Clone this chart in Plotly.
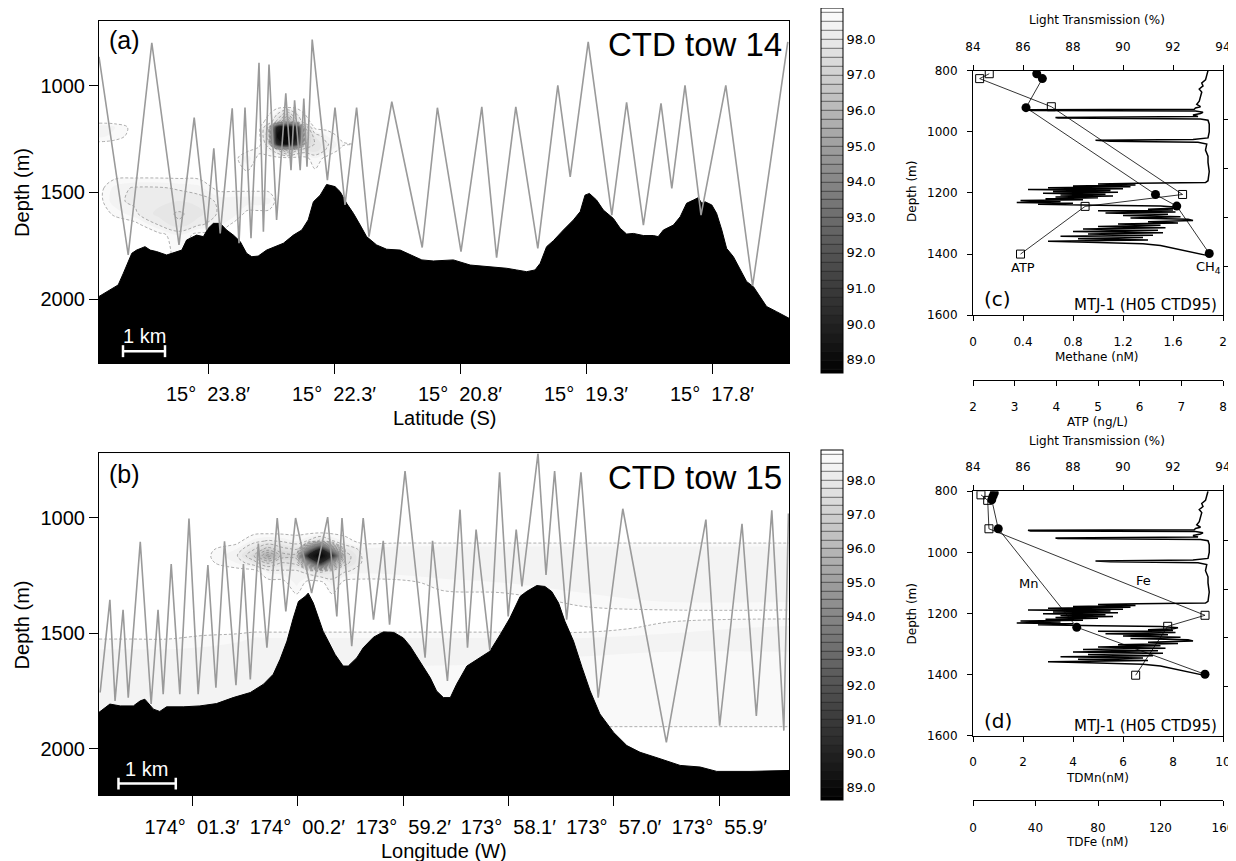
import plotly.graph_objects as go

W, H = 1236, 861
OFF = 8  # the page body keeps an 8 px margin round the figure

# ---------------- (a) CTD tow 14 : along-track distance (km) vs depth (m) ----------------
tow14_path_km = [0.00, 0.73, 1.32, 2.00, 2.38, 2.69, 2.87, 3.03, 3.33, 3.50, 3.65, 3.80, 4.00, 4.11,
                 4.25, 4.44, 4.67, 4.80, 4.89, 5.03, 5.12, 5.20, 5.33, 5.71, 5.90, 6.15, 6.44, 6.75,
                 7.32, 8.08, 8.46, 9.05, 9.57, 9.94, 10.42, 10.97, 11.47, 11.78, 12.23, 12.82, 13.19,
                 13.61, 14.05, 14.32, 14.65, 15.05, 15.67, 16.34, 17.22]
tow14_path_depth = [866, 1793, 800, 1746, 1150, 1676, 1294, 1692, 1107, 1738, 1103, 1715, 894, 1684,
                    902, 1629, 1037, 1396, 1069, 1396, 1061, 1380, 785, 1443, 1103, 1559, 1103, 1707,
                    1076, 1758, 1104, 1777, 1100, 1805, 1100, 1762, 999, 1427, 796, 1606, 1079,
                    1653, 1084, 1481, 999, 1606, 999, 1938, 796]
tow14_floor_km = [0.00, 0.48, 0.61, 0.82, 0.94, 1.15, 1.28, 1.44, 1.69, 1.94, 2.07, 2.19, 2.44, 2.61,
                  2.73, 2.86, 3.03, 3.19, 3.36, 3.53, 3.69, 3.82, 3.98, 4.19, 4.40, 4.61, 4.86, 5.07,
                  5.23, 5.36, 5.53, 5.69, 5.90, 6.03, 6.19, 6.36, 6.53, 6.69, 6.94, 7.19, 7.53, 7.78,
                  8.07, 8.36, 8.86, 9.28, 9.69, 10.19, 10.44, 10.69, 10.90, 11.03, 11.19, 11.36, 11.61,
                  11.86, 12.03, 12.15, 12.26, 12.44, 12.61, 12.86, 13.03, 13.19, 13.36, 13.61, 13.86,
                  13.98, 14.11, 14.36, 14.53, 14.69, 14.86, 14.98, 15.07, 15.15, 15.32, 15.44, 15.57,
                  15.69, 15.86, 16.03, 16.19, 16.36, 16.53, 16.69, 16.94, 17.25]
tow14_floor_depth = [1987, 1933, 1878, 1785, 1770, 1754, 1770, 1777, 1793, 1777, 1770, 1723, 1700, 1707,
                     1668, 1645, 1645, 1676, 1700, 1730, 1785, 1801, 1798, 1770, 1754, 1738, 1700, 1676,
                     1629, 1544, 1513, 1463, 1473, 1497, 1551, 1598, 1653, 1707, 1746, 1766, 1770, 1793,
                     1816, 1821, 1816, 1840, 1847, 1855, 1863, 1871, 1863, 1832, 1754, 1726, 1676,
                     1629, 1590, 1513, 1505, 1536, 1583, 1622, 1668, 1695, 1692, 1702, 1702,
                     1707, 1676, 1653, 1614, 1551, 1536, 1525, 1551, 1544, 1559, 1598, 1676,
                     1762, 1801, 1863, 1917, 1941, 1987, 2034, 2058, 2089]
# light transmission (%) section grid
tow14_grid_km = [0.0, 0.4, 0.9, 1.5, 2.0, 2.5, 3.0, 3.4, 3.7, 4.0, 4.25, 4.45, 4.7, 4.95, 5.15, 5.4, 5.7, 6.1, 7.0, 17.3]
tow14_grid_depth = [690, 1100, 1170, 1195, 1236, 1275, 1300, 1340, 1420, 1480, 1540, 1600, 1650, 1700, 2305]
tow14_lt = [
    [98.9, 98.9, 98.9, 98.9, 98.9, 98.9, 98.9, 98.9, 98.9, 98.9, 98.9, 98.9, 98.9, 98.9, 98.9, 98.9, 98.9, 98.9, 98.9, 98.9],
    [98.9, 98.9, 98.9, 98.9, 98.9, 98.9, 98.9, 98.9, 98.9, 98.9, 98.9, 98.9, 98.9, 98.9, 98.9, 98.9, 98.9, 98.9, 98.9, 98.9],
    [98.9, 98.9, 98.9, 98.9, 98.9, 98.9, 98.9, 98.9, 98.9, 98.9, 98.6, 97.6, 95.5, 97.6, 98.6, 98.9, 98.9, 98.9, 98.9, 98.9],
    [98.3, 98.5, 98.9, 98.9, 98.9, 98.9, 98.9, 98.9, 98.9, 98.9, 97.6, 90.0, 89.0, 90.5, 97.3, 98.9, 98.9, 98.9, 98.9, 98.9],
    [98.4, 98.6, 98.9, 98.9, 98.9, 98.9, 98.9, 98.9, 98.9, 98.9, 97.3, 89.2, 88.8, 89.5, 96.8, 98.0, 98.5, 98.9, 98.9, 98.9],
    [98.9, 98.9, 98.9, 98.9, 98.9, 98.9, 98.9, 98.9, 98.9, 98.9, 97.9, 90.5, 89.2, 91.0, 97.2, 97.8, 98.2, 98.7, 98.9, 98.9],
    [98.9, 98.9, 98.9, 98.9, 98.9, 98.9, 98.9, 98.9, 98.9, 98.6, 98.4, 97.8, 96.5, 97.6, 97.9, 97.8, 98.3, 98.9, 98.9, 98.9],
    [98.9, 98.9, 98.9, 98.9, 98.9, 98.9, 98.9, 98.9, 98.3, 98.9, 98.9, 98.9, 98.9, 98.9, 98.9, 98.5, 98.9, 98.9, 98.9, 98.9],
    [98.9, 98.9, 98.9, 98.9, 98.9, 98.9, 98.9, 98.9, 98.9, 98.9, 98.9, 98.9, 98.9, 98.9, 98.9, 98.9, 98.9, 98.9, 98.9, 98.9],
    [98.9, 98.4, 98.2, 98.2, 98.3, 98.4, 98.9, 98.9, 98.9, 98.9, 98.9, 98.9, 98.9, 98.9, 98.9, 98.9, 98.9, 98.9, 98.9, 98.9],
    [98.9, 98.3, 98.2, 98.1, 98.0, 98.1, 98.3, 98.3, 98.3, 98.3, 98.4, 98.9, 98.9, 98.9, 98.9, 98.9, 98.9, 98.9, 98.9, 98.9],
    [98.9, 98.7, 98.3, 97.9, 97.7, 97.9, 98.3, 98.4, 98.9, 98.9, 98.9, 98.9, 98.9, 98.9, 98.9, 98.9, 98.9, 98.9, 98.9, 98.9],
    [98.9, 98.9, 98.9, 98.2, 97.8, 98.2, 98.4, 98.9, 98.9, 98.9, 98.9, 98.9, 98.9, 98.9, 98.9, 98.9, 98.9, 98.9, 98.9, 98.9],
    [98.9, 98.9, 98.9, 98.9, 98.5, 98.9, 98.9, 98.9, 98.9, 98.9, 98.9, 98.9, 98.9, 98.9, 98.9, 98.9, 98.9, 98.9, 98.9, 98.9],
    [98.9, 98.9, 98.9, 98.9, 98.9, 98.9, 98.9, 98.9, 98.9, 98.9, 98.9, 98.9, 98.9, 98.9, 98.9, 98.9, 98.9, 98.9, 98.9, 98.9],
]
tow14_tick_km = [2.725, 5.875, 9.025, 12.175, 15.325]
tow14_tick_text = ["15°\u00a0 23.8′", "15°\u00a0 22.3′", "15°\u00a0 20.8′", "15°\u00a0 19.3′", "15°\u00a0 17.8′"]

# ---------------- (b) CTD tow 15 ----------------
tow15_path_km = [0.02, 0.19, 0.28, 0.42, 0.51, 0.72, 0.91, 1.03, 1.12, 1.26, 1.41, 1.57, 1.73, 1.90,
                 2.04, 2.19, 2.39, 2.52, 2.64, 2.78, 2.93, 3.11, 3.26, 3.43, 3.71, 3.99, 4.15, 4.24,
                 4.41, 4.61, 4.79, 4.96, 5.07, 5.34, 5.69, 5.82, 6.08, 6.30, 6.43, 6.58, 6.82, 6.99,
                 7.14, 7.28, 7.38, 7.66, 7.80, 7.95, 8.16, 8.41, 8.71, 9.14, 9.90, 10.59, 10.83,
                 11.22, 11.47, 11.74, 11.95, 12.03]
tow15_path_depth = [1757, 1355, 1793, 1398, 1779, 1103, 1807, 1398, 1764, 1200, 1764, 1003, 1764, 1204,
                    1736, 1101, 1725, 1200, 1700, 1111, 1563, 1000, 1405, 1000, 1326, 996, 1427, 1000,
                    1556, 1000, 1441, 1099, 1463, 797, 1606, 1099, 1707, 964, 1563, 1050, 1573, 802,
                    1427, 1050, 1297, 720, 1247, 797, 1441, 802, 1779, 960, 1973, 1007, 1901,
                    1025, 1858, 967, 1922, 981]
tow15_floor_km = [0.00, 0.19, 0.37, 0.60, 0.72, 0.80, 0.95, 1.06, 1.18, 1.47, 1.76, 2.05, 2.34, 2.64,
                  2.87, 3.04, 3.16, 3.28, 3.39, 3.48, 3.60, 3.65, 3.74, 3.83, 3.91, 4.00, 4.12, 4.26,
                  4.35, 4.50, 4.61, 4.79, 4.96, 5.14, 5.31, 5.43, 5.60, 5.78, 5.89, 6.01, 6.13, 6.24,
                  6.42, 6.65, 6.82, 7.00, 7.17, 7.35, 7.46, 7.64, 7.78, 7.90, 8.02, 8.13, 8.28, 8.43,
                  8.57, 8.74, 8.98, 9.21, 9.44, 9.79, 10.14, 10.49, 10.78, 11.36, 11.77, 12.04]
tow15_floor_depth = [1843, 1807, 1815, 1815, 1793, 1786, 1829, 1839, 1819, 1819, 1815, 1805, 1779, 1757,
                     1721, 1678, 1613, 1534, 1434, 1362, 1340, 1326, 1369, 1434, 1491, 1534, 1592, 1642,
                     1642, 1606, 1563, 1517, 1494, 1496, 1520, 1556, 1621, 1693, 1750, 1779, 1779, 1721,
                     1642, 1606, 1578, 1506, 1434, 1340, 1319, 1293, 1297, 1319, 1369, 1448, 1534, 1649,
                     1750, 1850, 1930, 1987, 2016, 2044, 2073, 2080, 2099, 2099, 2095, 2095]
tow15_grid_km = [0.0, 0.6, 1.2, 1.8, 2.4, 2.7, 2.95, 3.2, 3.45, 3.65, 3.86, 4.07, 4.3, 4.6, 5.2, 6.0, 7.0, 8.5, 10.0, 12.1]
tow15_grid_depth = [715, 1060, 1100, 1135, 1164, 1195, 1230, 1280, 1350, 1420, 1480, 1540, 1600, 1660, 1750, 1850, 1960, 2210]
tow15_lt = [
    [98.9, 98.9, 98.9, 98.9, 98.9, 98.9, 98.9, 98.9, 98.9, 98.9, 98.9, 98.9, 98.9, 98.9, 98.9, 98.9, 98.9, 98.9, 98.9, 98.9],
    [98.9, 98.9, 98.9, 98.9, 98.9, 98.9, 98.9, 98.9, 98.9, 98.9, 98.9, 98.9, 98.9, 98.9, 98.9, 98.9, 98.9, 98.9, 98.9, 98.9],
    [98.9, 98.9, 98.9, 98.9, 98.9, 98.4, 98.2, 98.3, 98.5, 98.2, 97.6, 98.2, 98.6, 98.9, 98.9, 98.9, 98.9, 98.9, 98.9, 98.9],
    [98.9, 98.9, 98.9, 98.9, 98.5, 97.8, 97.0, 97.6, 97.8, 94.0, 90.0, 94.5, 97.9, 98.4, 98.3, 98.3, 98.3, 98.3, 98.3, 98.3],
    [98.9, 98.9, 98.9, 98.9, 98.3, 97.3, 95.5, 97.0, 97.0, 90.0, 88.8, 90.5, 97.5, 98.3, 98.3, 98.3, 98.3, 98.3, 98.3, 98.3],
    [98.9, 98.9, 98.9, 98.9, 98.5, 98.0, 97.2, 97.8, 97.6, 94.5, 90.5, 95.0, 97.6, 98.3, 98.3, 98.3, 98.3, 98.3, 98.3, 98.3],
    [98.9, 98.9, 98.9, 98.9, 98.9, 98.9, 98.4, 98.3, 98.3, 98.0, 97.6, 97.9, 98.2, 98.4, 98.3, 98.3, 98.3, 98.3, 98.3, 98.3],
    [98.9, 98.9, 98.9, 98.9, 98.9, 98.9, 98.9, 98.9, 98.4, 98.9, 98.9, 98.4, 98.9, 98.9, 98.9, 98.6, 98.5, 98.3, 98.3, 98.3],
    [98.9, 98.9, 98.9, 98.9, 98.9, 98.9, 98.9, 98.9, 98.9, 98.9, 98.9, 98.9, 98.9, 98.9, 98.9, 98.9, 98.9, 98.6, 98.4, 98.4],
    [98.9, 98.9, 98.9, 98.9, 98.9, 98.9, 98.9, 98.9, 98.9, 98.9, 98.9, 98.9, 98.9, 98.9, 98.9, 98.9, 98.9, 98.9, 98.9, 98.9],
    [98.9, 98.9, 98.9, 98.9, 98.9, 98.9, 98.9, 98.9, 98.9, 98.9, 98.9, 98.9, 98.9, 98.9, 98.9, 98.9, 98.9, 98.9, 98.6, 98.4],
    [98.7, 98.7, 98.7, 98.6, 98.5, 98.3, 98.3, 98.3, 98.3, 98.3, 98.3, 98.3, 98.3, 98.3, 98.3, 98.3, 98.3, 98.3, 98.3, 98.3],
    [98.3, 98.3, 98.3, 98.3, 98.3, 98.3, 98.3, 98.3, 98.3, 98.3, 98.3, 98.3, 98.3, 98.3, 98.3, 98.3, 98.4, 98.5, 98.6, 98.6],
    [98.3, 98.3, 98.3, 98.3, 98.3, 98.3, 98.3, 98.3, 98.6, 98.6, 98.6, 98.6, 98.6, 98.6, 98.6, 98.6, 98.6, 98.6, 98.6, 98.6],
    [98.3, 98.3, 98.3, 98.3, 98.3, 98.3, 98.3, 98.3, 98.6, 98.6, 98.6, 98.6, 98.6, 98.6, 98.6, 98.6, 98.6, 98.6, 98.6, 98.6],
    [98.4, 98.4, 98.4, 98.4, 98.6, 98.6, 98.6, 98.6, 98.6, 98.6, 98.6, 98.6, 98.6, 98.6, 98.6, 98.6, 98.6, 98.6, 98.6, 98.6],
    [98.9, 98.9, 98.9, 98.9, 98.9, 98.9, 98.9, 98.9, 98.9, 98.9, 98.9, 98.9, 98.9, 98.9, 98.9, 98.9, 98.9, 98.9, 98.9, 98.9],
    [98.9, 98.9, 98.9, 98.9, 98.9, 98.9, 98.9, 98.9, 98.9, 98.9, 98.9, 98.9, 98.9, 98.9, 98.9, 98.9, 98.9, 98.9, 98.9, 98.9],
]
tow15_tick_km = [1.623, 3.461, 5.311, 7.143, 8.982, 10.826]
tow15_tick_text = ["174°\u00a0 01.3′", "174°\u00a0 00.2′", "173°\u00a0 59.2′",
                   "173°\u00a0 58.1′", "173°\u00a0 57.0′", "173°\u00a0 55.9′"]

cb_ticks = [89, 90, 91, 92, 93, 94, 95, 96, 97, 98]
cb_text = ["89.0", "90.0", "91.0", "92.0", "93.0", "94.0", "95.0", "96.0", "97.0", "98.0"]

# ---------------- (c)/(d) MTJ-1 (H05 CTD95) vertical profile ----------------
lt_depth = [800, 815, 830, 840, 850, 860, 870, 885, 900, 910, 918, 922, 926, 928, 930, 932, 936, 940,
            945, 950, 953, 955, 958, 962, 975, 1000, 1020, 1025, 1028, 1031, 1034, 1040, 1060, 1080,
            1100, 1130, 1160, 1166, 1168, 1171, 1174, 1177, 1180, 1183, 1186, 1189, 1192, 1195, 1198,
            1201, 1204, 1207, 1210, 1213, 1216, 1219, 1222, 1225, 1228, 1231, 1234, 1237, 1240, 1243,
            1247, 1250, 1253, 1256, 1258, 1262, 1266, 1270, 1274, 1278, 1282, 1286, 1290, 1294, 1298,
            1302, 1306, 1310, 1314, 1318, 1322, 1326, 1330, 1334, 1338, 1342, 1346, 1350, 1354, 1358,
            1362, 1366, 1372, 1385, 1395, 1405]
lt_value = [93.40, 93.35, 93.30, 93.15, 93.20, 93.05, 93.15, 93.10, 93.05, 92.95, 93.10, 92.90, 92.85,
            86.20, 86.30, 92.90, 93.20, 93.10, 92.80, 93.00, 87.30, 87.40, 93.10, 93.40, 93.45, 93.45,
            93.40, 92.80, 88.90, 89.50, 93.00, 93.35, 93.30, 93.40, 93.40, 93.45, 93.40, 93.30, 90.60,
            89.00, 90.50, 88.00, 90.30, 87.00, 90.00, 86.20, 89.50, 87.20, 89.80, 86.80, 89.30, 87.50,
            89.60, 87.30, 89.00, 86.90, 88.40, 85.90, 87.50, 85.75, 88.00, 86.60, 89.00, 91.50, 92.20,
            92.00, 91.00, 92.00, 89.00, 92.10, 89.30, 91.80, 90.00, 92.30, 90.30, 92.60, 92.80, 91.00,
            92.20, 89.80, 91.50, 89.00, 91.70, 88.40, 91.40, 88.00, 91.60, 88.60, 91.20, 87.50, 90.80,
            88.20, 91.00, 87.00, 89.00, 90.80, 91.50, 92.30, 92.90, 93.40]
ch4_depth = [810, 826, 921, 1205, 1243, 1398]
ch4_nm = [0.51, 0.555, 0.424, 1.46, 1.63, 1.89]
atp_depth = [810, 826, 918, 1205, 1244, 1400]
atp_ngl = [2.39, 2.16, 3.88, 7.03, 4.69, 3.14]
mn_depth = [806, 816, 828, 923, 1245, 1399]
mn_nm = [0.85, 0.80, 0.75, 1.01, 4.15, 9.28]
fe_depth = [812, 830, 923, 1206, 1242, 1402]
fe_nm = [5.1, 9.4, 10.2, 148.5, 124.6, 104.1]
lt_depth_ticks = [960, 1120, 1280, 1440]

SANS = "Liberation Sans, Arial"
DEJ = "DejaVu Sans"
FW, FH = W - OFF, H - OFF


def fx(p):
    return (p - OFF) / FW


def fy(p):
    return 1 - (p - OFF) / FH


fig = go.Figure()
GRAYS = [[0, "black"], [1, "white"]]


def section(xa, ya, grid_x, grid_y, grid_z, floor_x, floor_y, path_x, path_y, bottom, cb_top, cb_len):
    common = dict(x=grid_x, y=grid_y, z=grid_z, xaxis=xa, yaxis=ya, autocontour=False,
                  colorscale=GRAYS, hoverinfo="skip", showscale=False)
    levels = dict(start=88.75, end=98.75, size=0.25)
    # banded fill
    fig.add_trace(go.Contour(**common, contours=dict(levels, coloring="fill", showlines=False),
                             line=dict(smoothing=1)))
    # thin dashed isolines round the plumes
    fig.add_trace(go.Contour(**common, contours=dict(start=94.25, end=98.75, size=0.5, coloring="none"),
                             line=dict(color="#7a7a7a", width=0.6, dash="3px,2px", smoothing=1)))
    # same field, invisible, only to carry the banded colour bar
    cb = dict(common, showscale=True)
    fig.add_trace(go.Contour(**cb, opacity=0, contours=dict(levels, coloring="fill"),
                             line=dict(color="#202020", width=0.6),
                             colorbar=dict(x=fx(821), xanchor="left", y=fy(cb_top), yanchor="top",
                                           len=cb_len, lenmode="pixels", thickness=22,
                                           thicknessmode="pixels", outlinewidth=1, outlinecolor="black",
                                           tickmode="array", tickvals=cb_ticks, ticktext=cb_text,
                                           ticks="", xpad=0, ypad=0,
                                           tickfont=dict(family=DEJ, size=13, color="black"))))
    fig.add_trace(go.Scatter(x=floor_x + [floor_x[-1], floor_x[0]], y=floor_y + [bottom, bottom],
                             xaxis=xa, yaxis=ya, fill="toself", fillcolor="black", mode="lines",
                             line=dict(color="black", width=1), hoverinfo="skip"))
    fig.add_trace(go.Scatter(x=path_x, y=path_y, xaxis=xa, yaxis=ya, mode="lines",
                             line=dict(color="#9a9a9a", width=1.6), hoverinfo="skip"))


section("x", "y", tow14_grid_km, tow14_grid_depth, tow14_lt, tow14_floor_km, tow14_floor_depth,
        tow14_path_km, tow14_path_depth, 2400, 3, 365)
section("x2", "y2", tow15_grid_km, tow15_grid_depth, tow15_lt, tow15_floor_km, tow15_floor_depth,
        tow15_path_km, tow15_path_depth, 2300, 448, 350)


def profile(xlt, ylt, xa, xb, ya, a_vals, a_depth, a_marker, b_vals, b_depth, b_marker):
    # transmissometer trace on its own (right-hand) depth axis
    fig.add_trace(go.Scatter(x=lt_value, y=lt_depth, xaxis=xlt, yaxis=ylt, mode="lines",
                             line=dict(color="black", width=1.5), hoverinfo="skip"))
    fig.add_trace(go.Scatter(x=a_vals, y=a_depth, xaxis=xa, yaxis=ya, mode="lines+markers",
                             line=dict(color="black", width=0.8), marker=a_marker, hoverinfo="skip"))
    fig.add_trace(go.Scatter(x=b_vals, y=b_depth, xaxis=xb, yaxis=ya, mode="lines+markers",
                             line=dict(color="black", width=0.8), marker=b_marker, hoverinfo="skip"))


dot = dict(symbol="circle", size=9, color="black")
box = dict(symbol="square-open", size=8, color="black", line=dict(width=1))
profile("x4", "y4", "x3", "x5", "y3", ch4_nm, ch4_depth, dot, atp_ngl, atp_depth, box)
profile("x7", "y6", "x6", "x8", "y5", mn_nm, mn_depth, dot, fe_nm, fe_depth, box)

frame = dict(showline=True, linecolor="black", linewidth=1, mirror=True, showgrid=False,
             zeroline=False, ticks="outside", tickcolor="black", tickwidth=1.2, automargin=False,
             tickfont=dict(family=SANS, size=20, color="black"))
prof = dict(showline=True, linecolor="black", linewidth=1, showgrid=False, zeroline=False,
            ticks="outside", ticklen=5, tickcolor="black", tickwidth=1, automargin=False,
            tickfont=dict(family=DEJ, size=12, color="black"))

layout = dict(
    template="none",
    width=FW, height=FH, margin=dict(l=0, r=0, t=0, b=0, pad=0),
    paper_bgcolor="white", plot_bgcolor="white", showlegend=False,
    font=dict(family=SANS, color="black"),
    xaxis=dict(frame, domain=[fx(99), fx(789)], range=[0, 17.25], anchor="y", ticklen=10,
               tickmode="array", tickvals=tow14_tick_km, ticktext=tow14_tick_text, ticklabelstandoff=3),
    yaxis=dict(frame, domain=[fy(360), fy(16)], range=[2298, 698], anchor="x", ticklen=9,
               tickmode="array", tickvals=[1000, 1500, 2000]),
    xaxis2=dict(frame, domain=[fx(99), fx(789)], range=[0, 12.04], anchor="y2", ticklen=10,
                tickmode="array", tickvals=tow15_tick_km, ticktext=tow15_tick_text, ticklabelstandoff=4),
    yaxis2=dict(frame, domain=[fy(795), fy(451)], range=[2203, 720], anchor="x2", ticklen=9,
                tickmode="array", tickvals=[1000, 1500, 2000]),
    # (c)
    xaxis3=dict(prof, domain=[fx(973), fx(1223)], range=[0, 2], anchor="y3", tickmode="array",
                tickvals=[0, 0.4, 0.8, 1.2, 1.6, 2], ticktext=["0", "0.4", "0.8", "1.2", "1.6", "2"],
                ticklabelstandoff=10),
    yaxis3=dict(prof, domain=[fy(312), fy(66)], range=[1600, 800], anchor="x3", tickmode="array",
                tickvals=[800, 1000, 1200, 1400, 1600], ticklabelstandoff=7),
    xaxis4=dict(prof, overlaying="x3", side="top", anchor="y3", range=[84, 94], tickmode="array",
                tickvals=[84, 86, 88, 90, 92, 94], ticklabelstandoff=9),
    xaxis5=dict(prof, overlaying="x3", anchor="free", position=fy(377), range=[2, 8], tickmode="array",
                tickvals=[2, 3, 4, 5, 6, 7, 8], ticklabelstandoff=11),
    yaxis4=dict(prof, overlaying="y3", side="right", anchor="x3", range=[1600, 800], tickmode="array",
                tickvals=lt_depth_ticks, showticklabels=False),
    # (d)
    xaxis6=dict(prof, domain=[fx(973), fx(1223)], range=[0, 10], anchor="y5", tickmode="array",
                tickvals=[0, 2, 4, 6, 8, 10], ticklabelstandoff=10),
    yaxis5=dict(prof, domain=[fy(735), fy(489)], range=[1600, 800], anchor="x6", tickmode="array",
                tickvals=[800, 1000, 1200, 1400, 1600], ticklabelstandoff=7),
    xaxis7=dict(prof, overlaying="x6", side="top", anchor="y5", range=[84, 94], tickmode="array",
                tickvals=[84, 86, 88, 90, 92, 94], ticklabelstandoff=9),
    xaxis8=dict(prof, overlaying="x6", anchor="free", position=fy(800), range=[0, 160], tickmode="array",
                tickvals=[0, 40, 80, 120, 160], ticklabelstandoff=11),
    yaxis6=dict(prof, overlaying="y5", side="right", anchor="x6", range=[1600, 800], tickmode="array",
                tickvals=lt_depth_ticks, showticklabels=False),
)
fig.update_layout(**layout)


def note(text, x, y, size, family=SANS, xanchor="center", color="black", angle=0):
    fig.add_annotation(text=text, x=fx(x), y=fy(y), xref="paper", yref="paper", showarrow=False,
                       xanchor=xanchor, yanchor="middle", textangle=angle,
                       font=dict(family=family, size=size, color=color))


note("(a)", 107, 35, 25, xanchor="left")
note("CTD tow 14", 784, 40, 33, xanchor="right")
note("1 km", 144, 333, 20, color="white")
note("Latitude (S)", 444, 415, 20)
note("Depth (m)", 22, 189, 20, angle=-90)
note("(b)", 107, 472, 25, xanchor="left")
note("CTD tow 15", 784, 475, 33, xanchor="right")
note("1 km", 146, 768, 20, color="white")
note("Longitude (W)", 444, 851, 20)
note("Depth (m)", 22, 624, 20, angle=-90)

note("Light Transmission (%)", 1097, 15, 12, DEJ)
note("Methane (nM)", 1097, 354, 12, DEJ)
note("ATP (ng/L)", 1097, 419, 12, DEJ)
note("Depth (m)", 912, 188, 12, DEJ, angle=-90)
note("ATP", 1023, 264, 13, DEJ)
note("CH<sub>4</sub>", 1208, 264, 13, DEJ)
note("(c)", 982, 296, 20, DEJ, xanchor="left")
note("MTJ-1 (H05 CTD95)", 1219, 302, 15, DEJ, xanchor="right")

note("Light Transmission (%)", 1097, 439, 12, DEJ)
note("TDMn(nM)", 1097, 778, 12, DEJ)
note("TDFe (nM)", 1097, 842, 12, DEJ)
note("Depth (m)", 912, 613, 12, DEJ, angle=-90)
note("Mn", 1028, 582, 13, DEJ)
note("Fe", 1143, 579, 13, DEJ)
note("(d)", 982, 720, 20, DEJ, xanchor="left")
note("MTJ-1 (H05 CTD95)", 1219, 725, 15, DEJ, xanchor="right")

# white 1 km scale bars
for xr, yr, x0, x1, yb, cap in [("x", "y", 0.6, 1.65, 2243, 28), ("x2", "y2", 0.34, 1.34, 2152, 26)]:
    bar = dict(type="line", xref=xr, yref=yr, line=dict(color="white", width=2.5))
    fig.add_shape(bar, x0=x0, x1=x1, y0=yb, y1=yb)
    fig.add_shape(bar, x0=x0, x1=x0, y0=yb - cap, y1=yb + cap)
    fig.add_shape(bar, x0=x1, x1=x1, y0=yb - cap, y1=yb + cap)

fig.write_html("out.html")
